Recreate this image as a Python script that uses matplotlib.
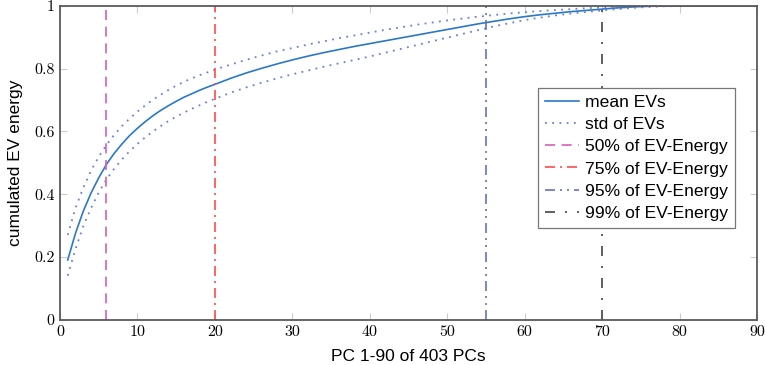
import matplotlib
matplotlib.use("Agg")
import matplotlib.pyplot as plt

pcs = [1, 2, 3, 4, 5, 6, 7, 8, 9, 10, 11, 12, 13, 14, 15, 16, 17, 18, 19, 20,
       22, 24, 26, 28, 30, 32, 34, 36, 38, 40, 42, 44, 46, 48, 50, 52, 54, 56,
       58, 60, 62, 64, 66, 68, 70, 72, 74, 76, 78, 80, 85, 90]
mean_ev = [0.190, 0.275, 0.345, 0.403, 0.452, 0.495, 0.530, 0.560, 0.587, 0.610,
           0.631, 0.650, 0.667, 0.682, 0.696, 0.709, 0.720, 0.731, 0.741, 0.750,
           0.769, 0.786, 0.801, 0.815, 0.828, 0.840, 0.851, 0.861, 0.871, 0.880,
           0.889, 0.898, 0.907, 0.916, 0.925, 0.934, 0.943, 0.951, 0.959, 0.966,
           0.972, 0.977, 0.982, 0.986, 0.990, 0.994, 0.997, 0.999, 1.0, 1.0, 1.0, 1.0]
std_upper = [0.270, 0.355, 0.420, 0.474, 0.519, 0.557, 0.589, 0.617, 0.641, 0.663,
             0.683, 0.701, 0.717, 0.732, 0.746, 0.758, 0.769, 0.779, 0.788, 0.797,
             0.813, 0.828, 0.842, 0.855, 0.866, 0.877, 0.887, 0.897, 0.906, 0.915,
             0.924, 0.932, 0.940, 0.947, 0.954, 0.960, 0.966, 0.971, 0.976, 0.980,
             0.984, 0.987, 0.990, 0.993, 0.995, 0.997, 0.999, 1.0, 1.0, 1.0, 1.0, 1.0]
std_lower = [0.140, 0.225, 0.297, 0.355, 0.405, 0.447, 0.481, 0.511, 0.537, 0.560,
             0.581, 0.600, 0.617, 0.633, 0.647, 0.660, 0.672, 0.683, 0.694, 0.704,
             0.723, 0.740, 0.755, 0.769, 0.782, 0.794, 0.806, 0.817, 0.828, 0.839,
             0.851, 0.863, 0.875, 0.887, 0.899, 0.911, 0.923, 0.935, 0.945, 0.955,
             0.963, 0.970, 0.976, 0.981, 0.986, 0.990, 0.994, 0.997, 0.999, 1.0, 1.0, 1.0]
thresholds = [6, 20, 55, 70]
threshold_labels = ["50% of EV-Energy", "75% of EV-Energy", "95% of EV-Energy", "99% of EV-Energy"]
xticks = [0, 10, 20, 30, 40, 50, 60, 70, 80, 90]
yticks = [0, 0.2, 0.4, 0.6, 0.8, 1.0]
ytick_labels = ["0", "0.2", "0.4", "0.6", "0.8", "1"]

th_colors = ["#d45fbf", "#ff4a4a", "#6272c0", "#444444"]
th_styles = [(0, (6, 4)), (0, (6, 3, 1.2, 3)), (0, (6, 3, 1.2, 3, 1.2, 3)), (0, (6, 6, 1.2, 6))]

fig = plt.figure(figsize=(7.65, 3.65), dpi=100)
ax = fig.add_axes([0.0784, 0.1244, 0.9111, 0.8592])

ax.plot(pcs, mean_ev, color="#2a78c8", lw=1.2, label="mean EVs")
ax.plot(pcs, std_upper, color="#6a7ed6", lw=1.3, ls=(0, (1, 3)), label="std of EVs")
ax.plot(pcs, std_lower, color="#6a7ed6", lw=1.3, ls=(0, (1, 3)))
for x, lab, c, s in zip(thresholds, threshold_labels, th_colors, th_styles):
    ax.axvline(x, color=c, ls=s, lw=1.2, label=lab)

ax.set_xlim(0, 90)
ax.set_ylim(0, 1)
ax.set_xticks(xticks)
ax.set_xticklabels([str(v) for v in xticks])
ax.set_yticks(yticks)
ax.set_yticklabels(ytick_labels)
for lbl in ax.get_xticklabels() + ax.get_yticklabels():
    lbl.set_fontfamily("cmr10")
    lbl.set_fontsize(11.5)
ax.tick_params(direction="in", length=5, color="#cccccc", width=0.8,
               top=True, right=True, pad=4)
for sp in ax.spines.values():
    sp.set_color("#5a5a5a")
    sp.set_linewidth(1.3)

ax.set_xlabel("PC 1-90 of 403 PCs", fontfamily="Liberation Sans", fontsize=12.5, labelpad=7)
ax.set_ylabel("cumulated EV energy", fontfamily="Liberation Sans", fontsize=12.5, labelpad=8)

leg = ax.legend(loc="upper right", bbox_to_anchor=(0.969, 0.740),
                prop={"family": "Liberation Sans", "size": 12.6},
                frameon=True, fancybox=False, framealpha=1, edgecolor="#777777",
                handlelength=1.95, borderpad=0.4, labelspacing=0.4, handletextpad=0.35,
                borderaxespad=0.0)
leg.get_frame().set_linewidth(0.9)

fig.savefig("out.png", dpi=100)
